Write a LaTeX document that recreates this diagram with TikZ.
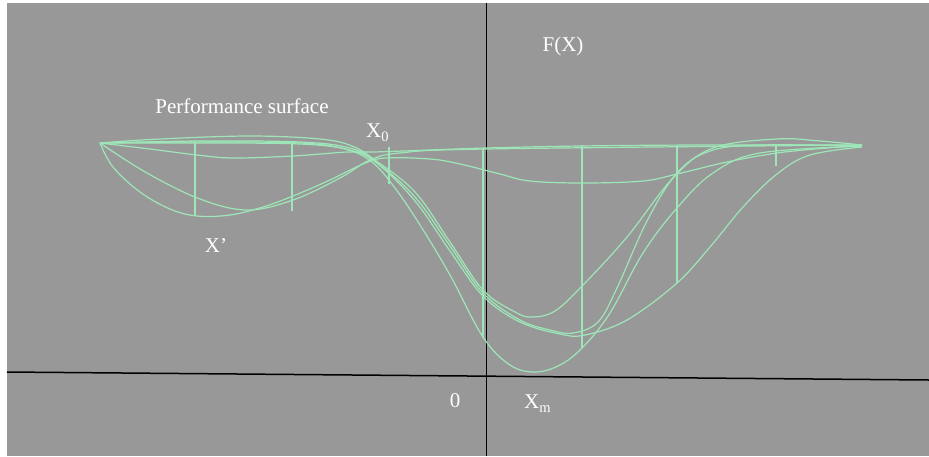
\documentclass[tikz,border=0pt]{standalone}
\usepackage{fontspec}
\setmainfont{Liberation Serif}
\usepackage{tikz}
\definecolor{panel}{RGB}{152,152,152}
\definecolor{mint}{RGB}{158,230,184}
\newcommand{\lowsub}[1]{\raisebox{-4.5pt}{\fontsize{14.5}{15}\selectfont #1}}

\begin{document}
\begin{tikzpicture}[x=1pt, y=-1pt, curve/.style = {draw=mint, line width=1.2pt}, tick/.style = {draw=mint, line width=1.3pt}, lbl/.style = {text=white, font=\fontsize{21}{24}\selectfont, inner sep=0pt}]
        \useasboundingbox (0,0) rectangle (929,456);
        \fill[panel] (7,3) rectangle (929,456);

        % Axes
        \draw[black, line width=1.5pt] (7,372) -- (929,380);
        \draw[black, line width=0.9pt] (486,3) -- (486,456);

        % Performance curves
        \draw[curve] plot[smooth, tension=0.6] coordinates {(100,143) (160,139) (250,136) (320,139) (352,146) (375,160) (415,192) (450,242) (483,290) (515,312) (532,317) (555,311) (583,285) (627,237) (673,178) (713,148) (777,139) (820,141) (862,145)};
        \draw[curve] plot[smooth, tension=0.6] coordinates {(100,143) (200,141) (300,142) (350,148) (376,162) (415,197) (450,246) (483,293) (520,320) (550,330) (573,333) (598,322) (617,288) (647,221) (677,173) (710,151) (760,145) (862,146)};
        \draw[curve] plot[smooth, tension=0.6] coordinates {(100,143) (200,143) (300,144) (350,150) (378,164) (415,201) (450,251) (483,296) (520,322) (560,334) (585,335) (627,320) (677,283) (710,247) (743,207) (777,174) (810,155) (862,147)};
        \draw[curve] plot[smooth, tension=0.6] coordinates {(100,143) (200,142) (300,143) (345,149) (372,162) (395,188) (420,225) (450,275) (483,337) (510,365) (535,372) (560,365) (583,347) (610,313) (643,253) (677,208) (713,173) (760,153) (862,146)};
        \draw[curve] plot[smooth, tension=0.6] coordinates {(100,143) (150,149) (197,155) (233,158) (293,156) (347,152) (373,152) (430,150) (486,148) (580,146) (700,145) (862,145)};
        \draw[curve] plot[smooth, tension=0.6] coordinates {(100,143) (113,167) (140,192) (170,209) (197,216) (230,215) (263,207) (293,196) (330,180) (363,164) (385,158) (430,159) (460,164) (500,174) (530,181) (583,183) (643,181) (677,174) (727,162) (777,153) (827,148) (862,146)};
        \draw[curve] plot[smooth, tension=0.6] coordinates {(100,143) (147,173) (200,199) (247,210) (293,200) (340,178) (370,160) (400,153) (486,149) (862,145)};

        % Ticks
        \draw[tick] (195,142) -- (195,216);
        \draw[tick] (292,144) -- (292,211);
        \draw[tick] (389,147) -- (389,184);
        \draw[tick] (483,148) -- (483,338);
        \draw[tick] (582,145) -- (582,348);
        \draw[tick] (677,145) -- (677,283);
        \draw[tick] (776,146) -- (776,166);

        % Labels
        \node[lbl, anchor=base] (fx) at (563,51) {F(X)};
        \node[lbl, anchor=base] (surf) at (242,113) {Performance surface};
        \node[lbl, anchor=base west] (xzero) at (366,137) {X\lowsub{0}};
        \node[lbl, anchor=base] (xprime) at (216,252) {X’};
        \node[lbl, anchor=base] (zero) at (455,407) {0};
        \node[lbl, anchor=base west] (xmin) at (524,408) {X\lowsub{m}};
    \end{tikzpicture}
\end{document}
